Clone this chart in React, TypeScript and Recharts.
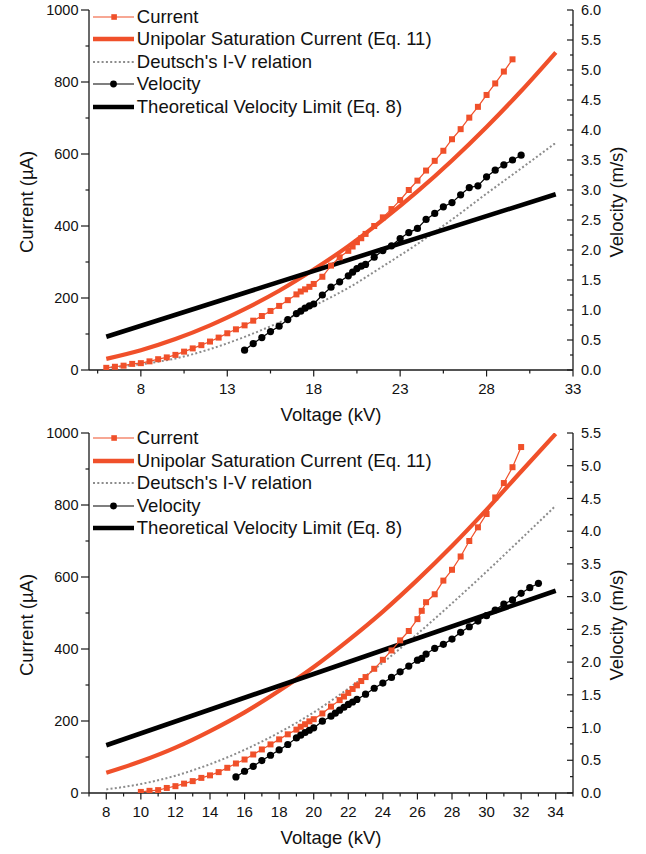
import { Label, Legend, Line, LineChart, XAxis, YAxis } from "recharts";

const FONT = "'Liberation Sans', Arial, sans-serif";
const RED = "#f0502a";
const GRAY = "#8c8c8c";
const AXIS = "#1a1a1a";

// ---- top panel ----
const topCurrentKv = [
  6, 6.5, 7, 7.5, 8, 8.5, 9, 9.5, 10, 10.5, 11, 11.5, 12, 12.5, 13, 13.5, 14, 14.5, 15, 15.5, 16,
  16.5, 17, 17.25, 17.5, 17.75, 18, 18.5, 19, 19.5, 20, 20.25, 20.5, 20.75, 21, 21.5, 22, 22.5, 23,
  23.5, 24, 24.5, 25, 25.5, 26, 26.5, 27, 27.5, 28, 28.5, 29, 29.5,
];
const topCurrentUa = [
  6, 9, 12, 17, 19, 24, 30, 35, 42, 51, 60, 69, 79, 90, 102, 113, 124, 137, 150, 164, 178,
  194, 210, 218, 224, 231, 239, 259, 290, 313, 331, 343, 355, 366, 378, 400, 424, 447, 472,
  500, 526, 554, 581, 609, 641, 669, 701, 731, 764, 796, 829, 863,
];
const topFitKv = [6, 8, 10, 12, 14, 16, 18, 20, 22, 24, 26, 28, 30, 32];
const topUnipolarUa = [31, 55, 86, 124, 169, 220, 279, 344, 417, 496, 582, 675, 775, 882];
const topDeutschUa = [6, 16, 32, 58, 92, 132, 178, 228, 288, 350, 418, 490, 560, 631];
const topVelocityKv = [
  14, 14.5, 15, 15.5, 16, 16.5, 17, 17.25, 17.5, 17.75, 18, 18.5, 19, 19.5, 20, 20.25, 20.5,
  20.75, 21, 21.5, 22, 22.5, 23, 23.5, 24, 24.5, 25, 25.5, 26, 26.5, 27, 27.5, 28, 28.5, 29,
  29.5, 30,
];
const topVelocityMs = [
  0.33, 0.44, 0.54, 0.64, 0.73, 0.84, 0.94, 0.98, 1.03, 1.07, 1.1, 1.25, 1.38, 1.47, 1.57, 1.63,
  1.69, 1.73, 1.76, 1.88, 1.99, 2.07, 2.19, 2.29, 2.36, 2.51, 2.61, 2.72, 2.79, 2.92, 3.04, 3.07,
  3.22, 3.33, 3.42, 3.5, 3.58,
];
const topLimitKv = [6, 32];
const topLimitMs = [0.555, 2.93];
const topXTicks = [5.5, 8, 10.5, 13, 15.5, 18, 20.5, 23, 25.5, 28, 30.5, 33];
const topXLabels = [8, 13, 18, 23, 28, 33];

// ---- bottom panel ----
const botCurrentKv = [
  10, 10.5, 11, 11.5, 12, 12.5, 13, 13.5, 14, 14.5, 15, 15.5, 16, 16.5, 17, 17.5, 18, 18.5, 19,
  19.25, 19.5, 19.75, 20, 20.5, 21, 21.5, 21.75, 22, 22.25, 22.5, 22.75, 23, 23.5, 24, 24.5, 25,
  25.5, 26, 26.25, 26.5, 27, 27.5, 28, 28.5, 29, 29.5, 30, 30.5, 31, 31.5, 32,
];
const botCurrentUa = [
  3, 6, 8, 14, 19, 26, 33, 42, 49, 58, 70, 82, 93, 107, 121, 135, 149, 163, 176,
  184, 191, 199, 205, 221, 240, 258, 268, 278, 289, 299, 311, 322, 345, 370, 396, 424,
  450, 483, 506, 530, 552, 590, 620, 657, 700, 738, 775, 821, 861, 905, 961,
];
const botFitKv = [8, 10, 12, 14, 16, 18, 20, 22, 24, 26, 28, 30, 32, 34];
const botUnipolarUa = [56, 88, 126, 172, 224, 284, 350, 424, 504, 592, 686, 787, 893, 998];
const botDeutschUa = [10, 25, 48, 80, 120, 168, 224, 290, 362, 442, 527, 615, 706, 798];
const botVelocityKv = [
  15.5, 16, 16.5, 17, 17.5, 18, 18.5, 19, 19.25, 19.5, 19.75, 20, 20.5, 21, 21.25, 21.5, 21.75,
  22, 22.25, 22.5, 23, 23.5, 24, 24.5, 25, 25.5, 26, 26.25, 26.5, 27, 27.5, 28, 28.5, 29, 29.5,
  30, 30.5, 31, 31.5, 32, 32.5, 33,
];
const botVelocityMs = [
  0.245, 0.332, 0.408, 0.496, 0.577, 0.658, 0.741, 0.842, 0.883, 0.924, 0.959, 0.995, 1.097,
  1.174, 1.22, 1.266, 1.31, 1.353, 1.39, 1.43, 1.51, 1.6, 1.68, 1.766, 1.852, 1.939, 2.03, 2.056,
  2.122, 2.21, 2.271, 2.352, 2.455, 2.54, 2.627, 2.709, 2.796, 2.887, 2.949, 3.051, 3.137, 3.204,
];
const botLimitKv = [8, 34];
const botLimitMs = [0.73, 3.09];
const botXTicks = Array.from({ length: 29 }, (_, i) => 7 + i);
const botXLabels = [8, 10, 12, 14, 16, 18, 20, 22, 24, 26, 28, 30, 32, 34];

const currentTicks = [0, 100, 200, 300, 400, 500, 600, 700, 800, 900, 1000];

const rows = (xs: number[], ys: number[]) => xs.map((kv, i) => ({ kv, y: ys[i] }));

const XTick = (props: any) => {
  const { x, y, payload, labels } = props;
  const major = labels.includes(payload.value);
  return (
    <g>
      <line x1={x} x2={x} y1={y} y2={y + (major ? 6.5 : 3.5)} stroke={AXIS} strokeWidth={1.2} />
      {major && (
        <text x={x} y={y + 24} textAnchor="middle" fontSize={15} fontFamily={FONT} fill="#111">
          {payload.value}
        </text>
      )}
    </g>
  );
};

const LeftTick = (props: any) => {
  const { x, y, payload } = props;
  const major = payload.value % 200 === 0;
  return (
    <g>
      <line x1={x} x2={x - (major ? 8 : 3.5)} y1={y} y2={y} stroke={AXIS} strokeWidth={1.2} />
      {major && (
        <text x={x - 10.5} y={y + 5.2} textAnchor="end" fontSize={14.5} fontFamily={FONT} fill="#111">
          {payload.value}
        </text>
      )}
    </g>
  );
};

const RightTick = (props: any) => {
  const { x, y, payload } = props;
  const major = Math.abs(payload.value * 2 - Math.round(payload.value * 2)) < 1e-6;
  return (
    <g>
      <line x1={x} x2={x - (major ? 6 : 3)} y1={y} y2={y} stroke={AXIS} strokeWidth={1.2} />
      {major && (
        <text x={x + 8} y={y + 5.2} textAnchor="start" fontSize={14.5} fontFamily={FONT} fill="#111">
          {payload.value.toFixed(1)}
        </text>
      )}
    </g>
  );
};

const SquareDot = (p: any) => (
  <rect key={`sq-${p.index}`} x={p.cx - 3} y={p.cy - 3} width={6} height={6} fill={RED} />
);

const RoundDot = (p: any) => <circle key={`dot-${p.index}`} cx={p.cx} cy={p.cy} r={3.6} fill="#000" />;

const legendItems = [
  { name: "Current", kind: "current" },
  { name: "Unipolar Saturation Current (Eq. 11)", kind: "unipolar" },
  { name: "Deutsch's I-V relation", kind: "deutsch" },
  { name: "Velocity", kind: "velocity" },
  { name: "Theoretical Velocity Limit (Eq. 8)", kind: "limit" },
];

const LegendIcon = ({ kind }: { kind: string }) => (
  <svg width={41} height={14} style={{ display: "block", flex: "none" }}>
    {kind === "current" && (
      <>
        <line x1={0} x2={41} y1={7} y2={7} stroke={RED} strokeWidth={1.2} />
        <rect x={18.3} y={4.2} width={5.6} height={5.6} fill={RED} />
      </>
    )}
    {kind === "unipolar" && <line x1={0} x2={41} y1={7} y2={7} stroke={RED} strokeWidth={4.3} />}
    {kind === "deutsch" && (
      <line x1={0} x2={41} y1={7} y2={7} stroke={GRAY} strokeWidth={2} strokeDasharray="2 2.3" />
    )}
    {kind === "velocity" && (
      <>
        <line x1={0} x2={41} y1={7} y2={7} stroke="#000" strokeWidth={1.2} />
        <circle cx={20.5} cy={7} r={3.4} fill="#000" />
      </>
    )}
    {kind === "limit" && <line x1={0} x2={41} y1={7} y2={7} stroke="#000" strokeWidth={4.6} />}
  </svg>
);

const LegendBox = () => (
  <div style={{ fontFamily: FONT, fontSize: 18.5, color: "#111" }}>
    {legendItems.map((it) => (
      <div key={it.name} style={{ display: "flex", alignItems: "center", height: 22.5, whiteSpace: "nowrap" }}>
        <LegendIcon kind={it.kind} />
        <span style={{ marginLeft: 2.5, lineHeight: 1 }}>{it.name}</span>
      </div>
    ))}
  </div>
);

type PanelProps = {
  height: number;
  marginTop: number;
  xAxisHeight: number;
  xDomain: [number, number];
  xTicks: number[];
  xLabels: number[];
  vMax: number;
  legendTop: number;
  current: { kv: number; y: number }[];
  unipolar: { kv: number; y: number }[];
  deutsch: { kv: number; y: number }[];
  velocity: { kv: number; y: number }[];
  limit: { kv: number; y: number }[];
};

const Panel = (p: PanelProps) => {
  const vTicks = Array.from({ length: Math.round(p.vMax / 0.25) + 1 }, (_, i) => i * 0.25);
  return (
    <LineChart width={646} height={p.height} margin={{ top: p.marginTop, right: 0, bottom: 0, left: 0 }}>
      <XAxis
        type="number"
        dataKey="kv"
        domain={p.xDomain}
        ticks={p.xTicks}
        interval={0}
        allowDataOverflow
        height={p.xAxisHeight}
        tickSize={0}
        tickMargin={0}
        axisLine={{ stroke: AXIS, strokeWidth: 1.3 }}
        tick={(t: any) => <XTick {...t} labels={p.xLabels} />}
        label={
          <Label
            content={(l: any) => {
              const vb = l.viewBox;
              return (
                <text x={vb.x + vb.width / 2} y={vb.y + 50.5} textAnchor="middle" fontSize={18.5} fontFamily={FONT} fill="#111">
                  Voltage (kV)
                </text>
              );
            }}
          />
        }
      />
      <YAxis
        yAxisId="i"
        type="number"
        domain={[0, 1000]}
        ticks={currentTicks}
        interval={0}
        allowDataOverflow
        width={89}
        tickSize={0}
        tickMargin={0}
        axisLine={{ stroke: AXIS, strokeWidth: 1.3 }}
        tick={(t: any) => <LeftTick {...t} />}
        label={
          <Label
            content={(l: any) => {
              const vb = l.viewBox;
              const cy = vb.y + vb.height / 2 + 12;
              return (
                <text x={33} y={cy} transform={`rotate(-90, 33, ${cy})`} textAnchor="middle" fontSize={18.5} fontFamily={FONT} fill="#111">
                  Current (µA)
                </text>
              );
            }}
          />
        }
      />
      <YAxis
        yAxisId="v"
        orientation="right"
        type="number"
        domain={[0, p.vMax]}
        ticks={vTicks}
        interval={0}
        allowDataOverflow
        width={73}
        tickSize={0}
        tickMargin={0}
        axisLine={{ stroke: AXIS, strokeWidth: 1.3 }}
        tick={(t: any) => <RightTick {...t} />}
        label={
          <Label
            content={(l: any) => {
              const vb = l.viewBox;
              const cx = vb.x + 50;
              const cy = vb.y + vb.height / 2 + 12;
              return (
                <text x={cx} y={cy} transform={`rotate(-90, ${cx}, ${cy})`} textAnchor="middle" fontSize={18.5} fontFamily={FONT} fill="#111">
                  Velocity (m/s)
                </text>
              );
            }}
          />
        }
      />
      <Legend
        layout="vertical"
        align="center"
        verticalAlign="middle"
        wrapperStyle={{ top: p.legendTop, left: 93.3, width: "auto", height: "auto" }}
        content={() => <LegendBox />}
      />
      <Line yAxisId="i" data={p.deutsch} dataKey="y" type="monotone" stroke={GRAY} strokeWidth={2} strokeDasharray="2 2.3" dot={false} isAnimationActive={false} />
      <Line yAxisId="i" data={p.unipolar} dataKey="y" type="monotone" stroke={RED} strokeWidth={4.2} dot={false} isAnimationActive={false} />
      <Line yAxisId="v" data={p.limit} dataKey="y" type="linear" stroke="#000" strokeWidth={4.6} dot={false} isAnimationActive={false} />
      <Line yAxisId="i" data={p.current} dataKey="y" type="linear" stroke={RED} strokeWidth={1.2} dot={SquareDot} isAnimationActive={false} />
      <Line yAxisId="v" data={p.velocity} dataKey="y" type="linear" stroke="#000" strokeWidth={1.2} dot={RoundDot} isAnimationActive={false} />
    </LineChart>
  );
};

export default function App() {
  return (
    <div style={{ position: "absolute", left: 0, top: 0, width: 646, height: 854, background: "#fff", fontFamily: FONT }}>
      <div style={{ position: "absolute", left: 0, top: 0 }}>
        <Panel
          height={425}
          marginTop={10}
          xAxisHeight={55}
          xDomain={[5, 33]}
          xTicks={topXTicks}
          xLabels={topXLabels}
          vMax={6}
          legendTop={5.5}
          current={rows(topCurrentKv, topCurrentUa)}
          unipolar={rows(topFitKv, topUnipolarUa)}
          deutsch={rows(topFitKv, topDeutschUa)}
          velocity={rows(topVelocityKv, topVelocityMs)}
          limit={rows(topLimitKv, topLimitMs)}
        />
      </div>
      <div style={{ position: "absolute", left: 0, top: 425 }}>
        <Panel
          height={429}
          marginTop={8}
          xAxisHeight={61}
          xDomain={[7, 35]}
          xTicks={botXTicks}
          xLabels={botXLabels}
          vMax={5.5}
          legendTop={2}
          current={rows(botCurrentKv, botCurrentUa)}
          unipolar={rows(botFitKv, botUnipolarUa)}
          deutsch={rows(botFitKv, botDeutschUa)}
          velocity={rows(botVelocityKv, botVelocityMs)}
          limit={rows(botLimitKv, botLimitMs)}
        />
      </div>
    </div>
  );
}
